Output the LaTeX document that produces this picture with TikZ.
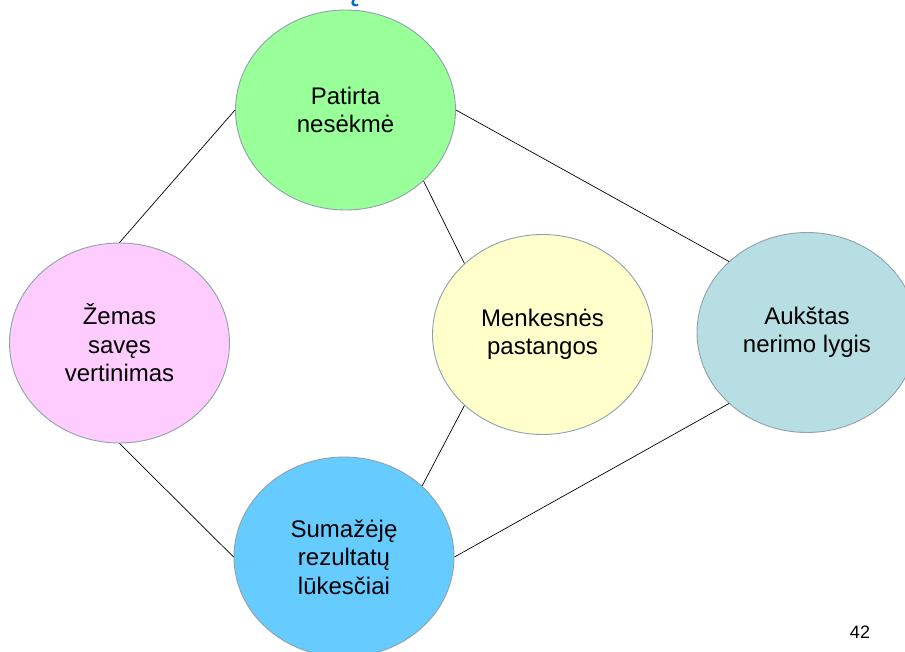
\documentclass[tikz,border=0pt]{standalone}
\usepackage{fontspec}
\setmainfont{Liberation Sans}
\usetikzlibrary{shapes.geometric}

\definecolor{edgegrey}{HTML}{8FA1AC}
\definecolor{failgreen}{HTML}{99FF99}
\definecolor{esteempink}{HTML}{FFCCFF}
\definecolor{effortyellow}{HTML}{FFFFCC}
\definecolor{anxietyteal}{HTML}{B7DEE2}
\definecolor{expectblue}{HTML}{66CCFF}
\definecolor{titleblue}{HTML}{0070C0}

\begin{document}
\begin{tikzpicture}[x=1pt, y=-1pt, % pixel-like coordinates, y grows downwards
bubble/.style={ellipse, draw=edgegrey, line width=0.9pt, minimum width=220pt, minimum height=200pt, inner sep=0pt, align=center, font=\fontsize{24}{28.5}\selectfont},
link/.style={draw=black, line width=0.7pt},
]
\useasboundingbox (0,0) rectangle (905,652);

% what is left of the slide title
\node[anchor=base west, text=titleblue, font=\fontsize{40}{48}\selectfont, inner sep=0pt](title_cut) at (336,-1){ą};

% \node[style](name)at(x,y){text}
\node[bubble, fill=failgreen](failure_one) at (345.5,110){Patirta\\nesėkmė};
\node[bubble, fill=esteempink](esteem_one) at (119.5,343){Žemas\\savęs\\vertinimas};
\node[bubble, fill=effortyellow](effort_one) at (542.5,334.5){Menkesnės\\pastangos};
\node[bubble, fill=anxietyteal](anxiety_one) at (807,332.5){Aukštas\\nerimo lygis};
\node[bubble, fill=expectblue](expect_one) at (344,557){Sumažėję\\rezultatų\\lūkesčiai};

\node[font=\fontsize{18}{21}\selectfont](page_no) at (860,632){42};

% connectors between the bubbles
\draw[link] (esteem_one.north) -- (failure_one.west);
\draw[link] (failure_one.east) -- (anxiety_one.north west);
\draw[link] (failure_one.south east) -- (effort_one.north west);
\draw[link] (effort_one.south west) -- (expect_one.north east);
\draw[link] (esteem_one.south) -- (expect_one.west);
\draw[link] (expect_one.east) -- (anxiety_one.south west);

\end{tikzpicture}
\end{document}
